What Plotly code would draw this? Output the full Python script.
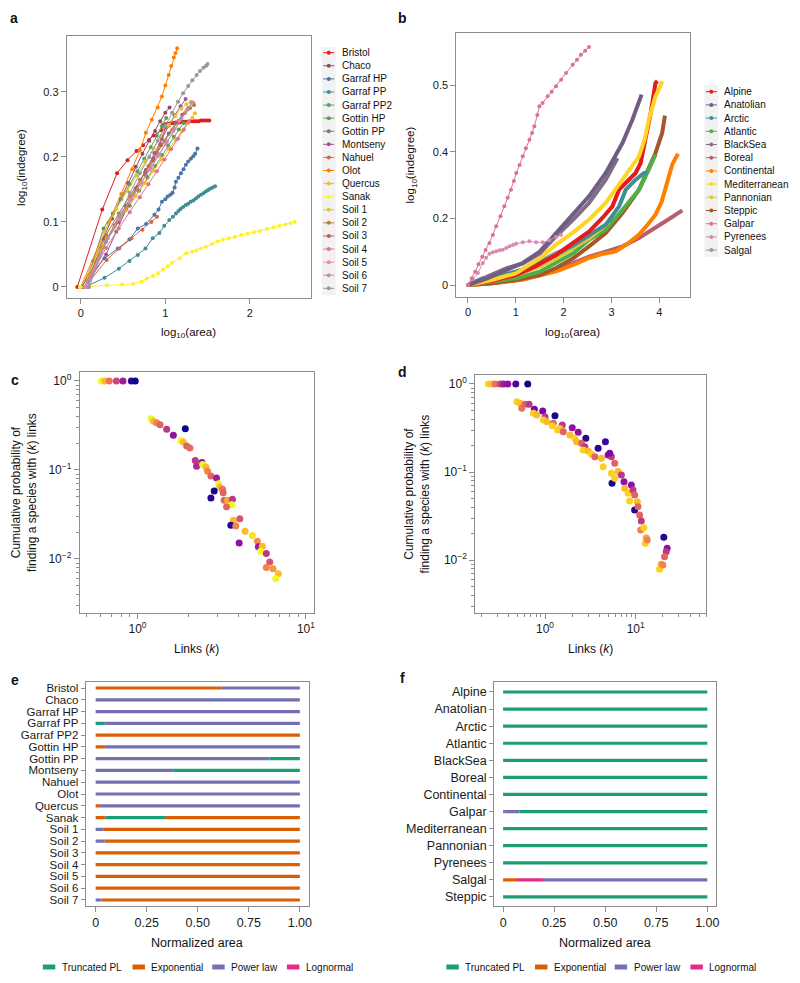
import plotly.graph_objects as go

FONT = "Liberation Sans, Arial, sans-serif"
W, H = 800, 983

# ---------------- Panel a data ----------------
a_names = ["Bristol", "Chaco", "Garraf HP", "Garraf PP", "Garraf PP2", "Gottin HP", "Gottin PP",
           "Montseny", "Nahuel", "Olot", "Quercus", "Sanak", "Soil 1", "Soil 2", "Soil 3",
           "Soil 4", "Soil 5", "Soil 6", "Soil 7"]
a_colors = ["#E41A1C", "#974661", "#4A73A7", "#3E8E93", "#48A462", "#5E995E", "#7F6E85",
            "#A35391", "#D16948", "#FF7F00", "#FFB817", "#FFF12D", "#E1C72F", "#BA7C2A",
            "#B8604A", "#DC738D", "#ED84BB", "#C38EAA", "#999999"]

bristol_x = [-0.04, 0.255, 0.43, 0.553, 0.659, 0.737, 0.808, 0.863, 0.953, 0.97, 0.995, 1.02, 1.045, 1.07,
             1.095, 1.12, 1.145, 1.17, 1.195, 1.22, 1.245, 1.27, 1.295, 1.32, 1.345, 1.37, 1.395, 1.42,
             1.445, 1.47, 1.495, 1.52]
bristol_y = [0, 0.119, 0.175, 0.195, 0.209, 0.218, 0.226, 0.233, 0.241, 0.249, 0.25, 0.251, 0.251, 0.252,
             0.252, 0.253, 0.253, 0.253, 0.254, 0.254, 0.254, 0.254, 0.255, 0.255, 0.255, 0.255, 0.255,
             0.256, 0.256, 0.256, 0.256, 0.256]
chaco_x = [0.02, 0.15, 0.27, 0.37, 0.47, 0.56, 0.65, 0.73, 0.81, 0.88, 0.94, 1.0, 1.05]
chaco_y = [0, 0.04, 0.075, 0.105, 0.135, 0.16, 0.185, 0.205, 0.225, 0.24, 0.255, 0.268, 0.276]
garrafhp_x = [0.0, 0.282, 0.439, 0.576, 0.675, 0.773, 0.871, 0.92, 0.96, 1.0, 1.027, 1.06, 1.086, 1.11,
              1.125, 1.155, 1.184, 1.215, 1.243, 1.27, 1.302, 1.33, 1.353, 1.38]
garrafhp_y = [0, 0.044, 0.059, 0.073, 0.09, 0.097, 0.111, 0.119, 0.131, 0.135, 0.139, 0.142, 0.145, 0.153,
              0.162, 0.168, 0.175, 0.181, 0.188, 0.193, 0.197, 0.201, 0.205, 0.213]
garrafpp_x = [0.05, 0.282, 0.451, 0.576, 0.675, 0.765, 0.851, 0.93, 0.988, 1.047, 1.09, 1.125, 1.155, 1.18,
              1.21, 1.243, 1.27, 1.30, 1.33, 1.361, 1.39, 1.42, 1.45, 1.478, 1.505, 1.53, 1.56, 1.588]
garrafpp_y = [0, 0.014, 0.028, 0.04, 0.049, 0.059, 0.075, 0.083, 0.094, 0.103, 0.108, 0.113, 0.117, 0.12,
              0.123, 0.126, 0.128, 0.131, 0.133, 0.136, 0.139, 0.142, 0.144, 0.147, 0.149, 0.151, 0.153, 0.155]
garrafpp2_x = [0.08, 0.3, 0.45, 0.58, 0.69, 0.79, 0.88, 0.96, 1.03, 1.1, 1.16, 1.22]
garrafpp2_y = [0, 0.07, 0.1, 0.125, 0.148, 0.168, 0.186, 0.203, 0.218, 0.231, 0.242, 0.252]
gottinhp_x = [0.05, 0.27, 0.38, 0.48, 0.58, 0.67, 0.75, 0.83, 0.9, 0.96, 1.01]
gottinhp_y = [0, 0.09, 0.113, 0.135, 0.158, 0.178, 0.197, 0.215, 0.232, 0.247, 0.26]
gottinpp_x = [0.05, 0.25, 0.4, 0.53, 0.65, 0.76, 0.86, 0.95, 1.04, 1.12, 1.2, 1.27, 1.33]
gottinpp_y = [0, 0.06, 0.095, 0.125, 0.152, 0.176, 0.198, 0.218, 0.236, 0.252, 0.265, 0.275, 0.283]
montseny_x = [0.05, 0.3, 0.42, 0.54, 0.66, 0.77, 0.87, 0.96, 1.04, 1.11, 1.18, 1.24]
montseny_y = [0, 0.05, 0.085, 0.12, 0.152, 0.18, 0.206, 0.228, 0.248, 0.264, 0.278, 0.289]
nahuel_x = [0.05, 0.306, 0.455, 0.6, 0.73, 0.835, 0.902]
nahuel_y = [0, 0.0415, 0.059, 0.075, 0.088, 0.1, 0.108]
olot_x = [0, 0.33, 0.48, 0.61, 0.70, 0.77, 0.84, 0.91, 0.96, 1.0, 1.04, 1.07, 1.10, 1.12, 1.14]
olot_y = [0, 0.099, 0.143, 0.181, 0.21, 0.237, 0.257, 0.276, 0.293, 0.31, 0.326, 0.34, 0.353, 0.36, 0.367]
quercus_x = [0.0, 0.25, 0.4, 0.53, 0.65, 0.76, 0.86, 0.95, 1.04, 1.12, 1.2, 1.27, 1.32, 1.35]
quercus_y = [0, 0.06, 0.092, 0.118, 0.14, 0.16, 0.179, 0.196, 0.212, 0.226, 0.24, 0.252, 0.26, 0.267]
sanak_x = [-0.01, 0.31, 0.49, 0.62, 0.72, 0.78, 0.855, 0.914, 0.973, 1.03, 1.08, 1.17, 1.247, 1.318, 1.365,
           1.42, 1.48, 1.55, 1.62, 1.68, 1.75, 1.82, 1.9, 1.97, 2.05, 2.12, 2.2, 2.28, 2.35, 2.42, 2.48, 2.53]
sanak_y = [0, 0.0026, 0.0036, 0.0046, 0.008, 0.013, 0.017, 0.021, 0.027, 0.032, 0.037, 0.044, 0.052, 0.054,
           0.056, 0.059, 0.062, 0.066, 0.07, 0.073, 0.075, 0.077, 0.08, 0.082, 0.084, 0.086, 0.089, 0.092,
           0.094, 0.096, 0.098, 0.1]
soil1_x = [0.05, 0.28, 0.42, 0.55, 0.66, 0.76, 0.86, 0.95, 1.04, 1.12, 1.19, 1.25, 1.3]
soil1_y = [0, 0.085, 0.12, 0.148, 0.172, 0.193, 0.213, 0.232, 0.249, 0.263, 0.274, 0.281, 0.285]
soil2_x = [0.05, 0.3, 0.45, 0.58, 0.7, 0.8, 0.9, 0.99, 1.08, 1.16, 1.23, 1.29, 1.34]
soil2_y = [0, 0.08, 0.113, 0.14, 0.165, 0.186, 0.206, 0.224, 0.241, 0.256, 0.267, 0.275, 0.28]
soil3_x = [0.05, 0.3, 0.44, 0.56, 0.67, 0.77, 0.86, 0.94, 1.0]
soil3_y = [0, 0.07, 0.1, 0.126, 0.15, 0.172, 0.195, 0.22, 0.245]
soil4_x = [0.05, 0.3, 0.45, 0.58, 0.7, 0.8, 0.9, 0.99, 1.07, 1.15, 1.22, 1.28]
soil4_y = [0, 0.06, 0.09, 0.115, 0.138, 0.158, 0.178, 0.196, 0.212, 0.228, 0.242, 0.255]
soil5_x = [0.05, 0.3, 0.45, 0.58, 0.7, 0.81, 0.91, 1.0, 1.09, 1.17, 1.25, 1.32]
soil5_y = [0, 0.07, 0.104, 0.133, 0.158, 0.18, 0.201, 0.22, 0.239, 0.256, 0.271, 0.284]
soil6_x = [0.08, 0.32, 0.47, 0.6, 0.72, 0.83, 0.93, 1.02, 1.11, 1.19, 1.26, 1.31]
soil6_y = [0, 0.075, 0.108, 0.136, 0.161, 0.183, 0.204, 0.224, 0.243, 0.259, 0.273, 0.283]
soil7_x = [0.1, 0.3, 0.45, 0.58, 0.7, 0.81, 0.91, 1.0, 1.08, 1.15, 1.21, 1.27, 1.32, 1.37, 1.41, 1.45, 1.48, 1.5]
soil7_y = [0, 0.07, 0.11, 0.145, 0.175, 0.2, 0.225, 0.248, 0.268, 0.285, 0.298, 0.309, 0.318, 0.326, 0.332,
           0.337, 0.34, 0.343]

a_xs = [bristol_x, chaco_x, garrafhp_x, garrafpp_x, garrafpp2_x, gottinhp_x, gottinpp_x, montseny_x,
        nahuel_x, olot_x, quercus_x, sanak_x, soil1_x, soil2_x, soil3_x, soil4_x, soil5_x, soil6_x, soil7_x]
a_ys = [bristol_y, chaco_y, garrafhp_y, garrafpp_y, garrafpp2_y, gottinhp_y, gottinpp_y, montseny_y,
        nahuel_y, olot_y, quercus_y, sanak_y, soil1_y, soil2_y, soil3_y, soil4_y, soil5_y, soil6_y, soil7_y]

# ---------------- Panel b data ----------------
b_names = ["Alpine", "Anatolian", "Arctic", "Atlantic", "BlackSea", "Boreal", "Continental",
           "Mediterranean", "Pannonian", "Steppic", "Galpar", "Pyrenees", "Salgal"]
b_colors = ["#E41A1C", "#715D84", "#3E8E93", "#4DAF4A", "#7F6E85", "#BA5E6D", "#FF7F00",
            "#FFD422", "#E1C72F", "#A65628", "#DC738D", "#D889B2", "#999999"]
alpine_x = [0, 0.5, 1.0, 1.4, 1.84, 2.19, 2.53, 2.81, 3.02, 3.16, 3.26, 3.37, 3.506, 3.61, 3.715, 3.82, 3.92, 3.96]
alpine_y = [0, 0.012, 0.03, 0.055, 0.09, 0.125, 0.16, 0.201, 0.236, 0.286, 0.301, 0.316, 0.336, 0.366, 0.436,
            0.516, 0.606, 0.612]
anatolian_x = [0, 0.4, 0.8, 1.145, 1.5, 1.84, 2.187, 2.53, 2.88, 3.23, 3.437, 3.63]
anatolian_y = [0, 0.02, 0.045, 0.066, 0.1, 0.156, 0.211, 0.266, 0.336, 0.426, 0.496, 0.571]
arctic_x = [0, 0.3, 0.6, 1.0, 1.4, 1.84, 2.2, 2.53, 2.88, 3.16, 3.3, 3.506, 3.68, 3.75]
arctic_y = [0, 0.02, 0.025, 0.04, 0.06, 0.09, 0.12, 0.15, 0.181, 0.236, 0.286, 0.316, 0.336, 0.336]
atlantic_x = [0, 0.5, 1.0, 1.5, 1.84, 2.2, 2.53, 2.88, 3.23, 3.576, 3.78, 3.92]
atlantic_y = [0, 0.01, 0.02, 0.04, 0.066, 0.095, 0.136, 0.166, 0.226, 0.286, 0.346, 0.391]
blacksea_x = [0, 0.4, 0.8, 1.15, 1.5, 1.84, 2.2, 2.53, 2.88, 3.09, 3.124]
blacksea_y = [0, 0.025, 0.05, 0.065, 0.095, 0.146, 0.196, 0.246, 0.316, 0.371, 0.381]
boreal_x = [0, 0.5, 1.0, 1.5, 1.84, 2.2, 2.53, 2.88, 3.23, 3.576, 3.92, 4.27, 4.48]
boreal_y = [0, 0.005, 0.015, 0.03, 0.045, 0.065, 0.085, 0.1, 0.116, 0.141, 0.171, 0.204, 0.224]
continental_x = [0, 0.5, 1.145, 1.5, 1.84, 2.2, 2.53, 2.8, 3.09, 3.35, 3.576, 3.75, 3.92, 4.05, 4.13, 4.2,
                 4.27, 4.34, 4.395]
continental_y = [0, 0.005, 0.016, 0.028, 0.041, 0.06, 0.081, 0.093, 0.101, 0.125, 0.151, 0.18, 0.211, 0.25,
                 0.291, 0.33, 0.361, 0.381, 0.394]
mediterranean_x = [0, 0.5, 1.0, 1.5, 1.84, 2.2, 2.53, 2.88, 3.23, 3.576, 3.7, 3.78, 3.85, 3.92, 4.0, 4.06]
mediterranean_y = [0, 0.015, 0.035, 0.08, 0.121, 0.158, 0.196, 0.246, 0.316, 0.386, 0.44, 0.496, 0.53, 0.566,
                   0.59, 0.611]
pannonian_x = [0, 0.5, 1.0, 1.5, 1.84, 2.2, 2.53, 2.8, 2.95]
pannonian_y = [0, 0.012, 0.03, 0.055, 0.08, 0.11, 0.14, 0.17, 0.19]
steppic_x = [0, 0.5, 1.0, 1.5, 1.84, 2.2, 2.53, 2.88, 3.23, 3.576, 3.92, 4.06, 4.118]
steppic_y = [0, 0.005, 0.015, 0.03, 0.051, 0.08, 0.116, 0.156, 0.216, 0.286, 0.396, 0.456, 0.508]
galpar_x = [0, 0.08, 0.15, 0.22, 0.3, 0.37, 0.45, 0.52, 0.59, 0.68, 0.76, 0.83, 0.9, 0.96, 1.01, 1.08, 1.145,
            1.21, 1.285, 1.34, 1.388, 1.45, 1.493, 1.56, 1.666, 1.75, 1.84, 1.95, 2.05, 2.19, 2.28, 2.36, 2.45, 2.53]
galpar_y = [0, 0.02, 0.04, 0.062, 0.085, 0.105, 0.126, 0.15, 0.176, 0.206, 0.236, 0.262, 0.286, 0.312, 0.336,
            0.36, 0.386, 0.41, 0.436, 0.456, 0.476, 0.51, 0.536, 0.546, 0.566, 0.58, 0.596, 0.616, 0.636, 0.661,
            0.676, 0.691, 0.703, 0.714]
pyrenees_x = [0, 0.1, 0.208, 0.312, 0.38, 0.45, 0.52, 0.59, 0.66, 0.728, 0.8, 0.867, 0.94, 1.006, 1.145,
              1.284, 1.423, 1.562, 1.70, 1.84, 1.944]
pyrenees_y = [0, 0.017, 0.036, 0.066, 0.082, 0.094, 0.098, 0.101, 0.104, 0.106, 0.111, 0.116, 0.12, 0.124,
              0.128, 0.131, 0.128, 0.128, 0.134, 0.144, 0.151]
salgal_x = [0, 0.5, 1.145, 1.5, 1.84, 2.19, 2.4, 2.57]
salgal_y = [0, 0.02, 0.046, 0.07, 0.096, 0.116, 0.135, 0.151]

b_xs = [alpine_x, anatolian_x, arctic_x, atlantic_x, blacksea_x, boreal_x, continental_x, mediterranean_x,
        pannonian_x, steppic_x, galpar_x, pyrenees_x, salgal_x]
b_ys = [alpine_y, anatolian_y, arctic_y, atlantic_y, blacksea_y, boreal_y, continental_y, mediterranean_y,
        pannonian_y, steppic_y, galpar_y, pyrenees_y, salgal_y]
b_draw_order = [5, 6, 9, 3, 8, 12, 2, 0, 7, 4, 1, 11, 10]

# ---------------- Panel c data ----------------
c_links = [0.61, 0.64, 0.68, 0.75, 0.82, 0.92, 0.97,
           1.205, 1.244, 1.30, 1.362, 1.491, 1.633, 1.923, 1.813, 1.871, 1.958,
           2.049, 2.205, 2.244, 2.414, 2.436, 2.549, 2.607, 2.729, 2.947, 3.03,
           3.085, 3.199, 3.227, 2.855, 2.729, 3.27, 3.424, 3.664, 3.631, 3.379,
           3.716, 3.583, 3.836, 4.053, 4.015, 4.355, 4.81, 5.15, 5.22, 5.52,
           5.39, 5.82, 6.10, 5.82, 6.38, 6.86, 6.62]
c_prob = [1, 1, 1, 1, 1, 1, 1,
          0.377, 0.352, 0.340, 0.323, 0.286, 0.245, 0.291, 0.215, 0.206, 0.186,
          0.177, 0.128, 0.110, 0.121, 0.115, 0.108, 0.0966, 0.0857, 0.0813, 0.0702,
          0.0644, 0.0607, 0.0556, 0.0581, 0.0485, 0.0456, 0.0456, 0.0468, 0.0408, 0.0384,
          0.0272, 0.0239, 0.0235, 0.0284, 0.0151, 0.0205, 0.0184, 0.0158, 0.0137, 0.0139,
          0.0122, 0.0115, 0.00925, 0.0080, 0.00778, 0.00684, 0.0060]
c_network = [1.0, 0.85, 0.65, 0.5, 0.35, 0.05, 0.0,
             1.0, 0.85, 0.7, 0.6, 0.45, 0.3, 0.0, 1.0, 0.85, 0.6,
             0.62, 0.45, 0.4, 0.3, 1.0, 0.85, 0.7, 0.6, 0.35, 1.0,
             0.85, 0.65, 0.6, 0.02, 0.05, 0.6, 0.8, 0.45, 1.0, 0.6,
             0.85, 0.05, 0.7, 0.55, 0.3, 0.85, 0.95, 0.72, 0.35, 0.85,
             1.0, 0.45, 0.55, 0.7, 0.75, 0.85, 1.0]

# ---------------- Panel d data ----------------
d_links = [0.238, 0.259, 0.282, 0.320, 0.348, 0.389, 0.476, 0.645,
           0.489, 0.531, 0.554, 0.603, 0.667, 0.763, 0.744, 0.810, 0.943, 1.0,
           1.288, 0.959, 1.043, 1.235, 1.204, 1.550, 1.461, 1.378, 1.997, 1.590,
           1.882, 2.324, 2.136, 2.228, 2.822, 2.529, 2.752, 2.638, 2.993, 3.258,
           3.854, 3.542, 4.195, 4.642, 4.966, 5.405, 5.180, 5.878, 6.397, 4.376,
           5.405, 5.491, 5.878, 6.958, 7.441, 7.575, 8.24, 8.96, 9.35, 9.75,
           8.59, 9.75, 10.43, 10.61, 11.07, 11.54, 11.35, 12.35, 13.10, 12.77,
           13.43, 20.45, 22.27, 21.73, 20.84, 19.16, 18.37, 19.97]
d_prob = [1, 1, 1, 1, 1, 1, 1, 1,
          0.630, 0.603, 0.529, 0.587, 0.587, 0.515, 0.464, 0.444, 0.493, 0.425,
          0.436, 0.390, 0.373, 0.357, 0.336, 0.342, 0.313, 0.300, 0.319, 0.287,
          0.263, 0.282, 0.241, 0.221, 0.241, 0.212, 0.194, 0.178, 0.173, 0.159,
          0.186, 0.149, 0.143, 0.221, 0.156, 0.149, 0.163, 0.1255, 0.101, 0.115,
          0.0966, 0.0743, 0.0847, 0.0925, 0.0777, 0.0652, 0.0572, 0.0711, 0.0624, 0.0548,
          0.0468, 0.0370, 0.0460, 0.0404, 0.0324, 0.0277, 0.0219, 0.0233, 0.0179, 0.0155,
          0.0169, 0.0181, 0.0136, 0.0124, 0.0109, 0.00893, 0.00783, 0.00877]
d_network = [0.9, 0.85, 0.65, 0.5, 0.35, 0.3, 0.15, 0.0,
             0.9, 0.85, 0.65, 0.6, 0.45, 0.25, 0.9, 0.85, 0.25, 0.45,
             0.02, 0.9, 0.85, 0.6, 0.9, 0.45, 0.85, 0.9, 0.3, 0.6,
             0.85, 0.3, 0.9, 0.85, 0.05, 0.6, 0.45, 0.9, 0.85, 0.9,
             0.05, 0.6, 0.85, 0.1, 0.3, 0.45, 0.25, 0.6, 0.85, 0.9,
             0.9, 0.02, 0.9, 0.45, 0.3, 0.85, 0.9, 0.3, 0.45, 0.6,
             0.9, 0.05, 0.85, 0.6, 0.6, 0.45, 0.7, 0.9, 0.8, 0.9,
             0.7, 0.05, 0.3, 0.45, 0.6, 0.8, 0.9, 0.7]

# ---------------- Panels e / f data ----------------
dist_types = ["Truncated PL", "Exponential", "Power law", "Lognormal"]
dist_colors = ["#1B9E77", "#D95F02", "#7570B3", "#E7298A"]

e_sites = ["Bristol", "Chaco", "Garraf HP", "Garraf PP", "Garraf PP2", "Gottin HP", "Gottin PP", "Montseny",
           "Nahuel", "Olot", "Quercus", "Sanak", "Soil 1", "Soil 2", "Soil 3", "Soil 4", "Soil 5", "Soil 6",
           "Soil 7"]
e_seg_site = ["Bristol", "Bristol", "Chaco", "Garraf HP", "Garraf PP", "Garraf PP", "Garraf PP2",
              "Gottin HP", "Gottin HP", "Gottin PP", "Gottin PP", "Montseny", "Montseny", "Nahuel", "Olot",
              "Quercus", "Quercus", "Sanak", "Sanak", "Sanak", "Soil 1", "Soil 1", "Soil 2", "Soil 2",
              "Soil 3", "Soil 4", "Soil 5", "Soil 6", "Soil 7", "Soil 7"]
e_seg_type = ["Exponential", "Power law", "Power law", "Power law", "Truncated PL", "Power law", "Exponential",
              "Exponential", "Power law", "Power law", "Truncated PL", "Power law", "Truncated PL", "Power law",
              "Power law", "Exponential", "Power law", "Exponential", "Truncated PL", "Exponential",
              "Power law", "Exponential", "Power law", "Exponential", "Exponential", "Exponential",
              "Exponential", "Exponential", "Power law", "Exponential"]
e_seg_start = [0, 0.616, 0, 0, 0, 0.045, 0, 0, 0.045, 0, 0.852, 0, 0.38, 0, 0, 0, 0.022, 0, 0.049, 0.34,
               0, 0.04, 0, 0.044, 0, 0, 0, 0, 0, 0.028]
e_seg_end = [0.616, 1, 1, 1, 0.045, 1, 1, 0.045, 1, 0.852, 1, 0.38, 1, 1, 1, 0.022, 1, 0.049, 0.34, 1,
             0.04, 1, 0.044, 1, 1, 1, 1, 1, 0.028, 1]

f_regions = ["Alpine", "Anatolian", "Arctic", "Atlantic", "BlackSea", "Boreal", "Continental", "Galpar",
             "Mediterranean", "Pannonian", "Pyrenees", "Salgal", "Steppic"]
f_seg_site = ["Alpine", "Anatolian", "Arctic", "Atlantic", "BlackSea", "Boreal", "Continental", "Galpar",
              "Galpar", "Galpar", "Mediterranean", "Pannonian", "Pyrenees", "Salgal", "Salgal", "Salgal",
              "Steppic"]
f_seg_type = ["Truncated PL"] * 7 + ["Exponential", "Power law", "Truncated PL"] + ["Truncated PL"] * 3 + \
             ["Exponential", "Lognormal", "Power law", "Truncated PL"]
f_seg_start = [0, 0, 0, 0, 0, 0, 0, 0, 0.005, 0.081, 0, 0, 0, 0, 0.073, 0.195, 0]
f_seg_end = [1, 1, 1, 1, 1, 1, 1, 0.005, 0.081, 1, 1, 1, 1, 0.073, 0.195, 1, 1]

# ---------------- helpers ----------------
def PX(x):
    return x / W


def PY(y):
    return 1 - y / H


fig = go.Figure()

# panel a
for i in range(len(a_names)):
    fig.add_trace(go.Scatter(x=a_xs[i], y=a_ys[i], mode="lines+markers", name=a_names[i],
                             line=dict(color=a_colors[i], width=1), marker=dict(color=a_colors[i], size=4),
                             xaxis="x", yaxis="y", showlegend=False))

# panel b
for i in b_draw_order:
    thin = b_names[i] in ("Galpar", "Pyrenees")
    fig.add_trace(go.Scatter(x=b_xs[i], y=b_ys[i], mode="lines+markers" if thin else "lines",
                             name=b_names[i],
                             line=dict(color=b_colors[i], width=1 if thin else 4),
                             marker=dict(color=b_colors[i], size=4),
                             xaxis="x2", yaxis="y2", showlegend=False))

# panel c, d
fig.add_trace(go.Scatter(x=c_links, y=c_prob, mode="markers",
                         marker=dict(color=c_network, colorscale="Plasma", cmin=0, cmax=1, size=7,
                                     line=dict(width=0)),
                         xaxis="x3", yaxis="y3", showlegend=False))
fig.add_trace(go.Scatter(x=d_links, y=d_prob, mode="markers",
                         marker=dict(color=d_network, colorscale="Plasma", cmin=0, cmax=1, size=7,
                                     line=dict(width=0)),
                         xaxis="x4", yaxis="y4", showlegend=False))


# panel e, f segments
def add_segments(sites, types, starts, ends, xa, ya):
    for t, col in zip(dist_types, dist_colors):
        xs, ys = [], []
        for s, ty, a, b in zip(sites, types, starts, ends):
            if ty == t:
                xs += [a, b, None]
                ys += [s, s, None]
        if xs:
            fig.add_trace(go.Scatter(x=xs, y=ys, mode="lines", line=dict(color=col, width=3.2),
                                     xaxis=xa, yaxis=ya, showlegend=False, name=t))


add_segments(e_seg_site, e_seg_type, e_seg_start, e_seg_end, "x5", "y5")
add_segments(f_seg_site, f_seg_type, f_seg_start, f_seg_end, "x6", "y6")

TICKFONT = dict(family=FONT, size=11, color="#1a1a1a")


def ax(domain, **kw):
    d = dict(domain=domain, showline=True, mirror=True, linecolor="#8c8c8c", linewidth=1,
             ticks="outside", ticklen=5, tickcolor="#8c8c8c", tickwidth=1, showgrid=False,
             zeroline=False, tickfont=TICKFONT)
    d.update(kw)
    return d


sup = lambda n: "10<sup>%s</sup>" % n

fig.update_layout(
    width=W, height=H, margin=dict(l=0, r=0, t=0, b=0),
    plot_bgcolor="white", paper_bgcolor="white",
    font=dict(family=FONT, color="#1a1a1a"),
    xaxis=ax([PX(67), PX(312)], anchor="y", range=[-0.165, 2.72], tickvals=[0, 1, 2]),
    yaxis=ax([PY(298), PY(36)], anchor="x", range=[-0.017, 0.386], tickvals=[0, 0.1, 0.2, 0.3],
             ticktext=["0", "0.1", "0.2", "0.3"]),
    xaxis2=ax([PX(458), PX(693)], anchor="y2", range=[-0.244, 4.65], tickvals=[0, 1, 2, 3, 4]),
    yaxis2=ax([PY(297), PY(33)], anchor="x2", range=[-0.036, 0.756], tickvals=[0, 0.2, 0.4, 0.6],
              ticktext=["0", "0.2", "0.4", "0.5"]),
    xaxis3=ax([PX(80), PX(315)], anchor="y3", type="log", range=[-0.343, 1.047], tickvals=[1, 10],
              ticktext=[sup(0), sup(1)], tickfont=dict(family=FONT, size=12, color="#1a1a1a"),
              minor=dict(ticks="outside", ticklen=3, tickcolor="#8c8c8c", dtick="D1")),
    yaxis3=ax([PY(613), PY(372)], anchor="x3", type="log", range=[-2.607, 0.101],
              tickvals=[0.01, 0.1, 1], ticktext=[sup("−2"), sup("−1"), sup(0)],
              tickfont=dict(family=FONT, size=12, color="#1a1a1a"),
              minor=dict(ticks="outside", ticklen=3, tickcolor="#8c8c8c", dtick="D1")),
    xaxis4=ax([PX(477), PX(709)], anchor="y4", type="log", range=[-0.77, 1.78], tickvals=[1, 10],
              ticktext=[sup(0), sup(1)], tickfont=dict(family=FONT, size=12, color="#1a1a1a"),
              minor=dict(ticks="outside", ticklen=3, tickcolor="#8c8c8c", dtick="D1")),
    yaxis4=ax([PY(613), PY(375)], anchor="x4", type="log", range=[-2.602, 0.102],
              tickvals=[0.01, 0.1, 1], ticktext=[sup("−2"), sup("−1"), sup(0)],
              tickfont=dict(family=FONT, size=12, color="#1a1a1a"),
              minor=dict(ticks="outside", ticklen=3, tickcolor="#8c8c8c", dtick="D1")),
    xaxis5=ax([PX(86), PX(310)], anchor="y5", range=[-0.0488, 1.044], tickvals=[0, 0.25, 0.5, 0.75, 1],
              ticktext=["0", "0.25", "0.50", "0.75", "1.00"],
              tickfont=dict(family=FONT, size=12.5, color="#1a1a1a")),
    yaxis5=ax([PY(906), PY(682)], anchor="x5", type="category", categoryorder="array",
              categoryarray=e_sites, range=[18.51, -0.51], tickmode="array", tickvals=e_sites,
              ticktext=e_sites, tickfont=dict(family=FONT, size=11.5, color="#1a1a1a"), ticklen=4),
    xaxis6=ax([PX(496), PX(719)], anchor="y6", range=[-0.0439, 1.044], tickvals=[0, 0.25, 0.5, 0.75, 1],
              ticktext=["0", "0.25", "0.50", "0.75", "1.00"],
              tickfont=dict(family=FONT, size=12.5, color="#1a1a1a")),
    yaxis6=ax([PY(906), PY(682)], anchor="x6", type="category", categoryorder="array",
              categoryarray=f_regions, range=[12.53, -0.585], tickmode="array", tickvals=f_regions,
              ticktext=f_regions, tickfont=dict(family=FONT, size=12.5, color="#1a1a1a"), ticklen=4),
)

ann = []
shapes = []


def text(x, y, s, size=11, angle=0, xanchor="center", bold=False):
    ann.append(dict(x=PX(x), y=PY(y), xref="paper", yref="paper", text=("<b>%s</b>" % s) if bold else s,
                    showarrow=False, textangle=angle, xanchor=xanchor, yanchor="middle",
                    font=dict(family=FONT, size=size, color="#111")))


# panel letters
text(14, 18, "a", 14, bold=True)
text(404, 18, "b", 14, bold=True)
text(15, 380, "c", 14, bold=True)
text(404, 372, "d", 14, bold=True)
text(15, 680, "e", 14, bold=True)
text(404, 678, "f", 14, bold=True)

# axis titles
text(189, 333, "log<sub>10</sub>(area)", 11.5)
text(575, 333, "log<sub>10</sub>(area)", 11.5)
text(22, 167, "log<sub>10</sub>(indegree)", 11.5, angle=-90)
text(413, 165, "log<sub>10</sub>(indegree)", 11.5, angle=-90)
text(24, 492, "Cumulative probability of<br>finding a species with (<i>k</i>) links", 12, angle=-90)
text(419, 494, "Cumulative probability of<br>finding a species with (<i>k</i>) links", 12, angle=-90)
text(197, 649, "Links (<i>k</i>)", 12)
text(593, 649, "Links (<i>k</i>)", 12)
text(198, 943, "Normalized area", 12.5)
text(607, 943, "Normalized area", 12.5)

# legend a
shapes.append(dict(type="rect", xref="paper", yref="paper", x0=PX(323), x1=PX(337), y0=PY(295), y1=PY(47),
                   fillcolor="#F2F2F2", line=dict(width=0), layer="below"))
for i, (nm, col) in enumerate(zip(a_names, a_colors)):
    yy = 52.7 + 13.09 * i
    shapes.append(dict(type="line", xref="paper", yref="paper", x0=PX(324.5), x1=PX(335.5), y0=PY(yy), y1=PY(yy),
                       line=dict(color=col, width=1)))
    shapes.append(dict(type="circle", xref="paper", yref="paper", x0=PX(328), x1=PX(332), y0=PY(yy + 2),
                       y1=PY(yy - 2), fillcolor=col, line=dict(width=0)))
    text(341, yy, nm, 10, xanchor="left")

# legend b
shapes.append(dict(type="rect", xref="paper", yref="paper", x0=PX(707), x1=PX(721), y0=PY(257), y1=PY(85),
                   fillcolor="#F2F2F2", line=dict(width=0), layer="below"))
for i, (nm, col) in enumerate(zip(b_names, b_colors)):
    yy = 91.7 + 13.2 * i
    shapes.append(dict(type="line", xref="paper", yref="paper", x0=PX(708.5), x1=PX(719.5), y0=PY(yy), y1=PY(yy),
                       line=dict(color=col, width=1)))
    shapes.append(dict(type="circle", xref="paper", yref="paper", x0=PX(712), x1=PX(716), y0=PY(yy + 2),
                       y1=PY(yy - 2), fillcolor=col, line=dict(width=0)))
    text(725, yy, nm, 10, xanchor="left")

# legends e, f
e_leg_x = [43, 133, 213, 288]
f_leg_x = [448, 537, 617, 693]
for xs in (e_leg_x, f_leg_x):
    for x0, nm, col in zip(xs, dist_types, dist_colors):
        shapes.append(dict(type="rect", xref="paper", yref="paper", x0=PX(x0), x1=PX(x0 + 12.5),
                           y0=PY(969.5), y1=PY(964.5), fillcolor=col, line=dict(width=0)))
        text(x0 + 17, 967, nm, 10, xanchor="left")

fig.update_layout(annotations=ann, shapes=shapes)

fig.write_html("out.html", config={"displayModeBar": False},
               post_script="document.body.style.margin='0';")
